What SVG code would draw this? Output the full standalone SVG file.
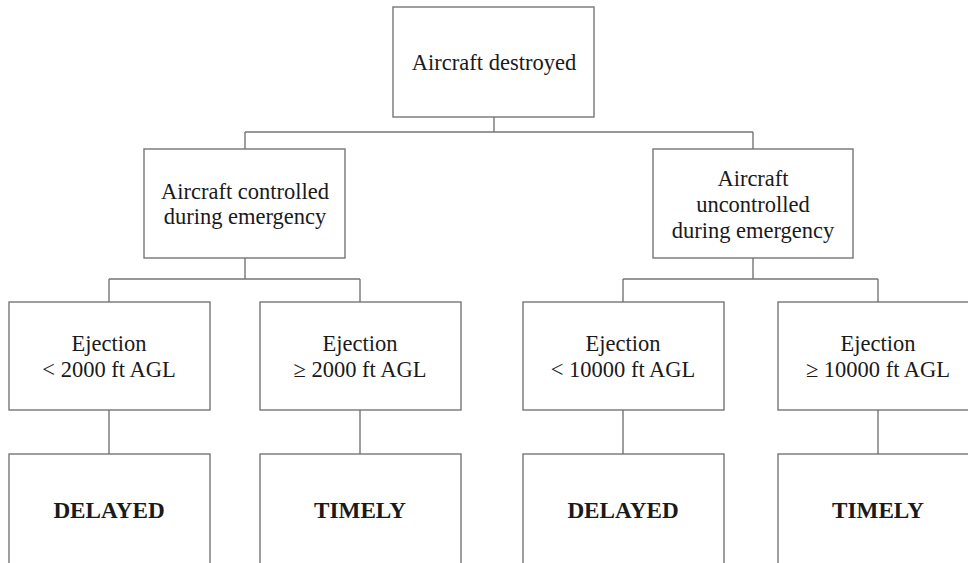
<svg xmlns="http://www.w3.org/2000/svg" width="968" height="563" viewBox="0 0 968 563">
<style>
.box{fill:#fff;stroke:#767676;stroke-width:1.4}
.ln{fill:none;stroke:#767676;stroke-width:1.4}
text{font-family:"Liberation Serif","Times New Roman",serif;font-size:22.5px;fill:#1a1a1a;text-anchor:middle}
.b{font-weight:bold;font-size:23.2px}
</style>
<rect width="968" height="563" fill="#fff"/>
<g id="connectors">
<path class="ln" d="M494,117V132M245,132H753M245,132V149M753,132V149"/>
<path class="ln" d="M245,258V279M109,279H360M109,279V302M360,279V302"/>
<path class="ln" d="M753,258V279M623,279H878M623,279V302M878,279V302"/>
<path class="ln" d="M109,410V454M360,410V454M623,410V454M878,410V454"/>
</g>
<g id="n-destroyed"><rect class="box" x="393" y="7" width="201" height="110"/><text x="494" y="70">Aircraft destroyed</text></g>
<g id="n-controlled"><rect class="box" x="144" y="149" width="201" height="109"/><text x="245" y="199">Aircraft controlled</text><text x="245" y="224">during emergency</text></g>
<g id="n-uncontrolled"><rect class="box" x="653" y="149" width="200" height="109"/><text x="753" y="186">Aircraft</text><text x="753" y="212">uncontrolled</text><text x="753" y="238">during emergency</text></g>
<g id="n-ej1"><rect class="box" x="9" y="302" width="201" height="108"/><text x="109" y="351">Ejection</text><text x="109" y="377">&lt; 2000 ft AGL</text></g>
<g id="n-ej2"><rect class="box" x="260" y="302" width="201" height="108"/><text x="360" y="351">Ejection</text><text x="360" y="377">≥ 2000 ft AGL</text></g>
<g id="n-ej3"><rect class="box" x="523" y="302" width="201" height="108"/><text x="623" y="351">Ejection</text><text x="623" y="377">&lt; 10000 ft AGL</text></g>
<g id="n-ej4"><rect class="box" x="778" y="302" width="201" height="108"/><text x="878" y="351">Ejection</text><text x="878" y="377">≥ 10000 ft AGL</text></g>
<g id="n-d1"><rect class="box" x="9" y="454" width="201" height="130"/><text class="b" x="109" y="518">DELAYED</text></g>
<g id="n-t1"><rect class="box" x="260" y="454" width="201" height="130"/><text class="b" x="360" y="518">TIMELY</text></g>
<g id="n-d2"><rect class="box" x="523" y="454" width="201" height="130"/><text class="b" x="623" y="518">DELAYED</text></g>
<g id="n-t2"><rect class="box" x="778" y="454" width="201" height="130"/><text class="b" x="878" y="518">TIMELY</text></g>
</svg>
